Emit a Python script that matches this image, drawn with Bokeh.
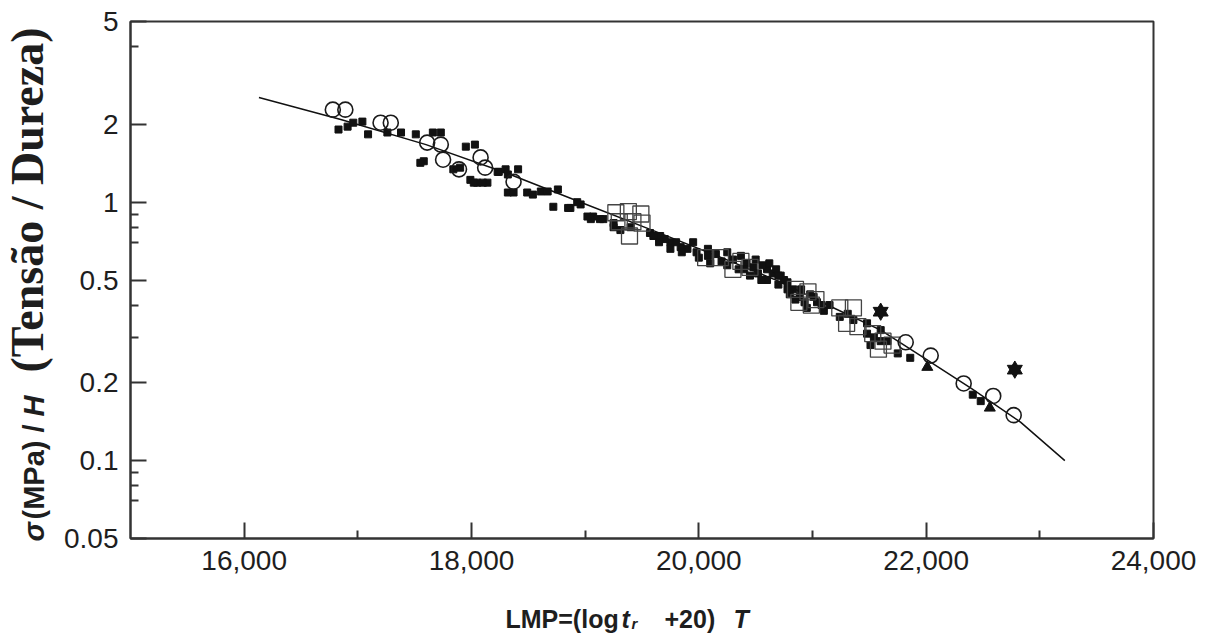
import math
from bokeh.plotting import figure
from bokeh.models import Label, FixedTicker, Range1d, CustomJSTickFormatter
from bokeh.layouts import row, column
from bokeh.embed import file_html
from bokeh.resources import INLINE

# ---------------- data ----------------
curve_x = [16130, 16850, 17600, 18300, 18960, 19600, 20200, 20700, 21160, 21600, 21950, 22400, 22830, 23220]
curve_y = [2.54, 2.09, 1.67, 1.30, 1.00, 0.776, 0.610, 0.495, 0.395, 0.320, 0.255, 0.190, 0.141, 0.100]

fsq_x = [16830, 16910, 16960, 17040, 17090, 17260, 17380, 17510, 17660, 17730, 17580, 17550,
         17950, 18030, 17990, 18050, 18140, 18230, 18300, 18410, 18320, 18490, 18540, 18670,
         18760, 18720, 18870, 18960, 19070, 19050, 17840, 17900, 18020, 18100, 18240, 18320,
         18370, 18610, 18850, 18930, 19160, 19250, 19020, 19130, 19250, 19310, 19400, 19570,
         19660, 19750, 19750, 19840, 19950, 20080, 20080, 20250, 20370, 20480, 20600, 20720,
         20600, 20780, 20830, 20890, 21010, 20950, 21040, 21310, 21360, 21480, 21540, 21600,
         21240, 21480, 21600, 21510, 21660, 21750, 21860, 22410, 22480,
         19700, 19800, 19900, 19980, 20150, 20300, 20420, 20500, 20520, 20560, 20650, 20680,
         20700, 20750, 20800, 20900, 20980, 21080, 20400, 20200,
         19600, 19650, 19850, 20000, 20100, 20250, 20350, 20450, 20550, 20620, 20700, 20780,
         20850, 20930, 21100, 21150]
fsq_y = [1.91, 1.96, 2.03, 2.05, 1.83, 1.86, 1.86, 1.83, 1.86, 1.86, 1.44, 1.42,
         1.64, 1.67, 1.22, 1.19, 1.19, 1.31, 1.34, 1.34, 1.09, 1.09, 1.07, 1.10,
         1.12, 0.96, 0.95, 0.98, 0.88, 0.86, 1.34, 1.36, 1.19, 1.19, 1.31, 1.28,
         1.09, 1.10, 0.95, 1.00, 0.86, 0.80, 0.88, 0.86, 0.83, 0.78, 0.80, 0.76,
         0.74, 0.70, 0.66, 0.67, 0.70, 0.66, 0.62, 0.64, 0.62, 0.56, 0.55, 0.52,
         0.50, 0.49, 0.46, 0.43, 0.43, 0.39, 0.41, 0.37, 0.35, 0.34, 0.30, 0.29,
         0.36, 0.31, 0.32, 0.28, 0.29, 0.26, 0.25, 0.18, 0.17,
         0.72, 0.70, 0.66, 0.64, 0.63, 0.60, 0.58, 0.60, 0.53, 0.57, 0.53, 0.55,
         0.48, 0.50, 0.44, 0.46, 0.44, 0.40, 0.55, 0.59,
         0.74, 0.70, 0.64, 0.61, 0.58, 0.57, 0.55, 0.52, 0.50, 0.58, 0.52, 0.46,
         0.42, 0.41, 0.38, 0.40]

osq_x = [19270, 19380, 19490, 19300, 19420, 19500, 19390,
         20060, 20190, 20370, 20300, 20450,
         20850, 20960, 21030, 20880, 20990,
         21240, 21360, 21300, 21400, 21530, 21620, 21700, 21580]
osq_y = [0.91, 0.92, 0.90, 0.84, 0.84, 0.83, 0.74,
         0.61, 0.61, 0.59, 0.55, 0.56,
         0.46, 0.45, 0.42, 0.41, 0.40,
         0.39, 0.39, 0.34, 0.33, 0.31, 0.29, 0.28, 0.27]

circ_x = [16780, 16890, 17200, 17290, 17610, 17730, 17750, 17890, 18080, 18120, 18370,
          21820, 22040, 22330, 22590, 22770]
circ_y = [2.28, 2.28, 2.03, 2.03, 1.70, 1.67, 1.46, 1.34, 1.49, 1.36, 1.20,
          0.287, 0.255, 0.199, 0.178, 0.150]

star_x = [21600, 22780]
star_y = [0.377, 0.225]

tri_x = [22010, 22560]
tri_y = [0.23, 0.16]

x_ticks = [16000, 18000, 20000, 22000, 24000]
x_minor = [17000, 19000, 21000, 23000]
y_ticks = [0.05, 0.1, 0.2, 0.5, 1, 2, 5]
y_minor = [0.07, 0.08, 0.09, 0.3, 0.4, 0.7, 0.8, 0.9, 4]

# ---------------- layout sizes ----------------
W, H = 1208, 636
LEFT_W = 60          # strip holding the y title
BOTTOM_H = 46        # strip holding the x title
MAIN_W = W - LEFT_W
MAIN_H = H - BOTTOM_H
FRAME_LEFT = 130     # canvas x of the main frame's left edge

dark = "#1e1e1e"
frame_col = "#333333"

p = figure(width=MAIN_W, height=MAIN_H, y_axis_type="log",
           x_range=Range1d(15000, 24000), y_range=Range1d(0.05, 5),
           output_backend="svg", toolbar_location=None,
           min_border_left=FRAME_LEFT - LEFT_W, min_border_right=55, min_border_top=21,
           min_border_bottom=52)
p.background_fill_color = "white"
p.border_fill_color = "white"
p.grid.visible = False
p.outline_line_color = frame_col
p.outline_line_width = 2

for ax in (p.xaxis[0], p.yaxis[0]):
    ax.axis_line_color = frame_col
    ax.axis_line_width = 2
    ax.major_tick_line_color = frame_col
    ax.minor_tick_line_color = frame_col
    ax.major_tick_line_width = 2
    ax.minor_tick_line_width = 2
    ax.major_tick_in = 16
    ax.major_tick_out = 0
    ax.minor_tick_in = 8
    ax.minor_tick_out = 0
    ax.major_label_text_font = "Liberation Sans"
    ax.major_label_text_font_size = "28px"
    ax.major_label_text_color = dark
    ax.major_label_standoff = 12

p.xaxis[0].ticker = FixedTicker(ticks=x_ticks, minor_ticks=x_minor)
p.yaxis[0].ticker = FixedTicker(ticks=y_ticks, minor_ticks=y_minor)
p.xaxis[0].formatter = CustomJSTickFormatter(code="return tick.toLocaleString('en-US');")
p.yaxis[0].formatter = CustomJSTickFormatter(code="return String(tick);")

# curve
p.line(curve_x, curve_y, line_color="#111111", line_width=1.5)

# data markers
p.scatter(fsq_x, fsq_y, marker="square", size=7, fill_color="#111111", line_color="#111111")
p.scatter(osq_x, osq_y, marker="square", size=16, fill_color=None, line_color="#444444", line_width=1.3)
p.scatter(circ_x, circ_y, marker="circle", size=15, fill_color=None, line_color="#1a1a1a", line_width=1.6)
p.scatter(tri_x, tri_y, marker="triangle", size=11, fill_color="#111111", line_color="#111111")
p.scatter(star_x, star_y, marker="triangle", size=15, fill_color="#111111", line_color="#111111")
p.scatter(star_x, star_y, marker="inverted_triangle", size=15, fill_color="#111111", line_color="#111111")


def strip(width, height):
    f = figure(width=width, height=height, output_backend="svg", toolbar_location=None,
               min_border=0, x_range=Range1d(0, width), y_range=Range1d(0, height))
    f.axis.visible = False
    f.grid.visible = False
    f.outline_line_color = None
    f.background_fill_color = "white"
    f.border_fill_color = "white"
    return f


def lab(f, text, x, y, font, size, style, angle=0.0):
    f.add_layout(Label(x=x, y=y, x_units="screen", y_units="screen", text=text,
                       text_font=font, text_font_size=size, text_font_style=style,
                       text_color=dark, text_align="left", text_baseline="alphabetic",
                       angle=angle))


SHIFT = 10   # observed offset of the alphabetic baseline in Label rendering

# ---- y title strip (left) : sigma (MPa) / H   (Tensão / Dureza)
left = strip(LEFT_W, H)
a = math.pi / 2
lab(left, "σ", 33, H - 541, "Liberation Sans", "29px", "bold italic", a)
lab(left, "(MPa) /", 33, H - 519, "Liberation Sans", "29px", "bold", a)
lab(left, "H", 33, H - 416, "Liberation Sans", "29px", "bold italic", a)
lab(left, "(Tensão / Dureza)", 27, H - 372, "Liberation Serif", "46px", "bold", a)

# ---- x title strip (bottom): LMP=(log t_r +20) T
bottom = strip(MAIN_W, BOTTOM_H)
by = H - 627 + SHIFT - 1   # baseline measured from the bottom of the strip
ox = FRAME_LEFT            # the strip's frame is aligned with the main frame
lab(bottom, "LMP=(log", 505 - ox, by, "Liberation Sans", "25px", "bold")
lab(bottom, "t", 621 - ox, by, "Liberation Sans", "25px", "bold italic")
lab(bottom, "r", 631 - ox, by - 5, "Liberation Sans", "15px", "bold italic")
lab(bottom, "+20)", 664 - ox, by, "Liberation Sans", "25px", "bold")
lab(bottom, "T", 733 - ox, by, "Liberation Sans", "25px", "bold italic")

layout = row(left, column(p, bottom, spacing=0), spacing=0)
open("out.html", "w").write(file_html(layout, INLINE))
